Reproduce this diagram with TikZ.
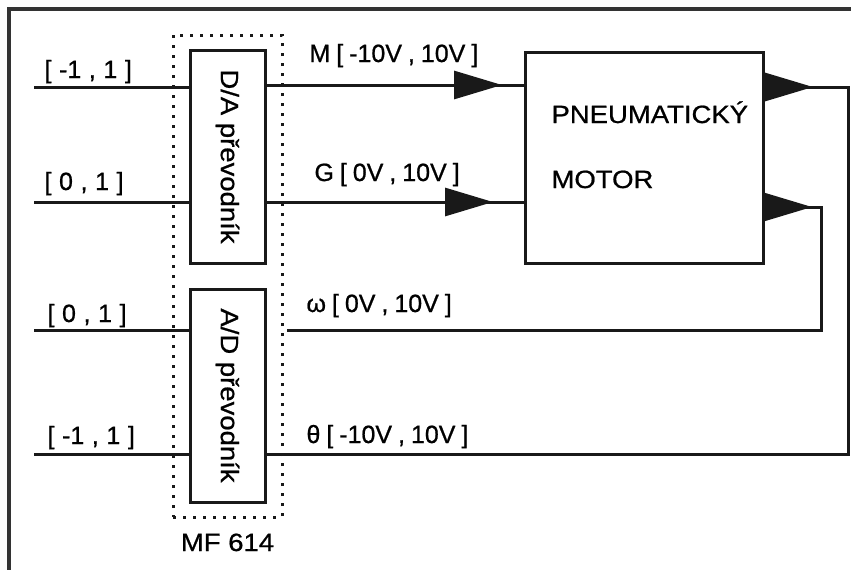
\documentclass[tikz,border=0pt]{standalone}
\usepackage{fontspec}
\setmainfont{Liberation Sans}[FakeStretch=1.1,FakeBold=0.8]
\newfontfamily\labfont{Liberation Sans}[WordSpace=0.86,FakeBold=0.8]
\usetikzlibrary{arrows.meta,decorations.markings,fit}
\newcommand\widespaces{\spaceskip=7.6pt\relax}

\begin{document}
\begin{tikzpicture}[x=1pt, y=-1pt, line width=3pt,
    font=\fontsize{25}{28}\selectfont,
    block/.style={draw=black!90, inner sep=0pt, outer sep=0pt},
    lab/.style={anchor=base west, inner sep=0pt, font=\labfont\fontsize{25}{28}\selectfont},
    inlab/.style={lab, execute at begin node=\widespaces},
    wire/.style={draw=black!90},
    sig/.style={draw=black!90, postaction={decorate},
      decoration={markings, mark=at position #1 with
        {\arrow{Triangle[length=48pt,width=28pt]}}}}]
  \useasboundingbox (0,0) rectangle (851,570);
  % --- outer frame (cut by the page edge) ---
  \draw[line width=3.5pt, black!80] (9,570) -- (9,9) -- (851,9);
  % --- converter boxes of the MF 614 card ---
  \node[block, minimum width=75pt, minimum height=213pt] (da) at (227.5,156.5) {};
  \node[rotate=-90] (datext) at (da.center) {D/A převodník};
  \node[block, minimum width=75pt, minimum height=213pt] (ad) at (227.5,395.5) {};
  \node[rotate=-90] (adtext) at (ad.center) {A/D převodník};
  \node[fit=(da)(ad), inner xsep=17pt, inner ysep=15pt, draw=black!90,
    dash pattern=on 3pt off 7pt] (mf) {};
  \node[anchor=base] (mflab) at (mf.south |- 0,551) {MF 614};
  % --- motor ---
  \node[block, minimum width=238pt, minimum height=211pt] (motor) at (644,157.5) {};
  \node[anchor=base west, inner sep=0pt] (pn) at (550,123) {PNEUMATICKÝ};
  \node[anchor=base west, inner sep=0pt] (mo) at (550,188) {MOTOR};
  % --- inputs on the left ---
  \coordinate (in1) at (34,87);
  \coordinate (in2) at (34,202);
  \coordinate (in3) at (34,330);
  \coordinate (in4) at (34,454);
  \draw[wire] (in1) -- (in1 -| da.west);
  \draw[wire] (in2) -- (in2 -| da.west);
  \draw[wire] (in3) -- (in3 -| ad.west);
  \draw[wire] (in4) -- (in4 -| ad.west);
  \node[inlab] (l1) at (43,78) {[ -1 , 1 ]};
  \node[inlab] (l2) at (43,190) {[ 0 , 1 ]};
  \node[inlab] (l3) at (46,322) {[ 0 , 1 ]};
  \node[inlab] (l4) at (46,444) {[ -1 , 1 ]};
  % --- control signals to the motor ---
  \draw[sig=237pt] (da.east |- 0,85) -- (motor.west |- 0,85);
  \draw[sig=228pt] (da.east |- 0,202) -- (motor.west |- 0,202);
  \node[lab] (lm) at (308,62) {M [ -10V , 10V ]};
  \node[lab] (lg) at (313,181) {G [ 0V , 10V ]};
  % --- measured signals back to the card ---
  \coordinate (wend) at (287,330);
  \draw[sig=50pt] (motor.east |- 0,87) -- (848,87) -- (848,454) -- (ad.east |- 0,454);
  \draw[sig=49pt] (motor.east |- 0,207) -- (821,207) -- (821,330) -- (wend);
  \node[lab] (lw) at (305,312) {ω [ 0V , 10V ]};
  \node[lab] (lt) at (305,443) {θ [ -10V , 10V ]};
\end{tikzpicture}
\end{document}
